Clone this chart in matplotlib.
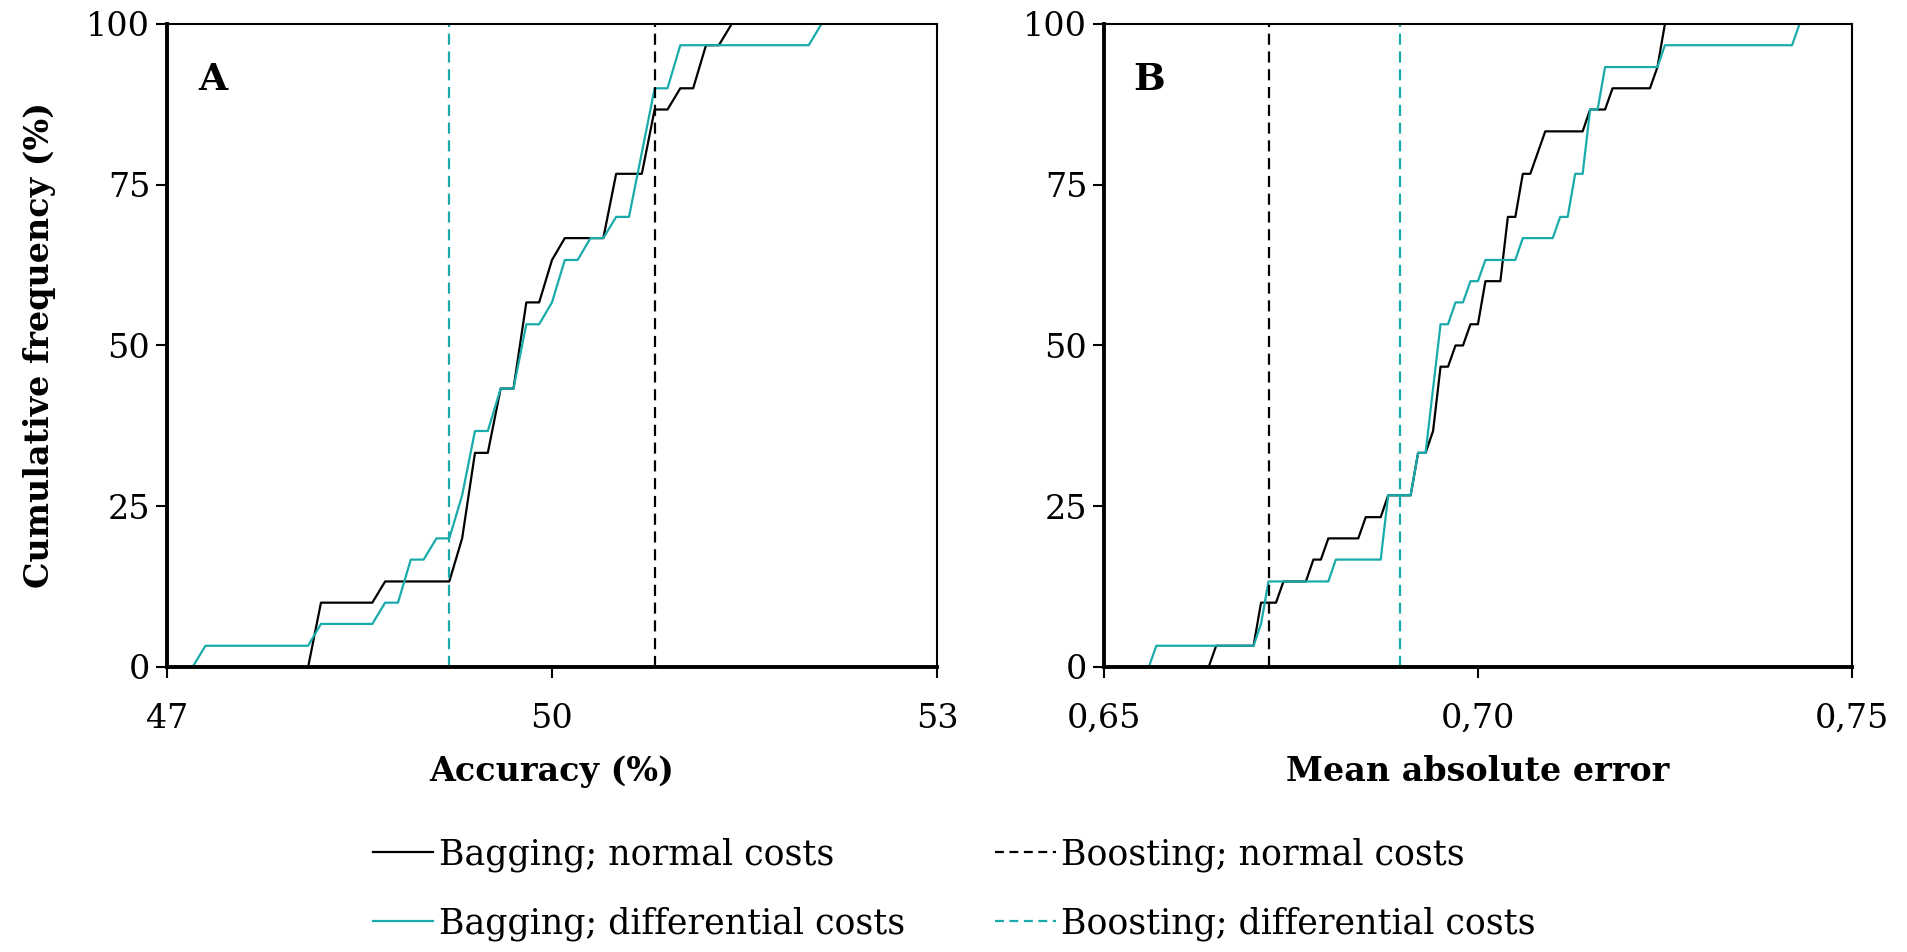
import matplotlib.pyplot as plt
from matplotlib.lines import Line2D

plt.rcParams['font.family'] = ['DejaVu Serif']

teal = '#19abab'

# Panel A: accuracy (%)
acc_bag_norm_x = [48.1, 48.2, 48.6, 48.7, 49.2, 49.3, 49.4, 49.5, 49.6, 49.7, 49.8, 49.9, 50.0, 50.1,
                  50.4, 50.5, 50.7, 50.8, 50.9, 51.0, 51.1, 51.2, 51.3, 51.4]
acc_bag_norm_y = [0, 10, 10, 13.3, 13.3, 20, 33.3, 33.3, 43.3, 43.3, 56.7, 56.7, 63.3, 66.7,
                  66.7, 76.7, 76.7, 86.7, 86.7, 90, 90, 96.7, 96.7, 100]
acc_bag_diff_x = [47.2, 47.3, 48.1, 48.2, 48.6, 48.7, 48.8, 48.9, 49.0, 49.1, 49.2, 49.3, 49.4, 49.5,
                  49.6, 49.7, 49.8, 49.9, 50.0, 50.1, 50.2, 50.3, 50.4, 50.5, 50.6, 50.8, 50.9, 51.0,
                  52.0, 52.1]
acc_bag_diff_y = [0, 3.3, 3.3, 6.7, 6.7, 10, 10, 16.7, 16.7, 20, 20, 26.7, 36.7, 36.7,
                  43.3, 43.3, 53.3, 53.3, 56.7, 63.3, 63.3, 66.7, 66.7, 70, 70, 90, 90, 96.7,
                  96.7, 100]
acc_boost_norm = 50.8
acc_boost_diff = 49.2

# Panel B: mean absolute error
mae_bag_norm_x = [0.664, 0.665, 0.670, 0.671, 0.673, 0.674, 0.677, 0.678, 0.679, 0.680, 0.684, 0.685,
                  0.687, 0.688, 0.691, 0.692, 0.693, 0.694, 0.695, 0.696, 0.697, 0.698, 0.699, 0.700,
                  0.701, 0.703, 0.704, 0.705, 0.706, 0.707, 0.709, 0.714, 0.715, 0.717, 0.718, 0.723,
                  0.724, 0.725]
mae_bag_norm_y = [0, 3.3, 3.3, 10, 10, 13.3, 13.3, 16.7, 16.7, 20, 20, 23.3,
                  23.3, 26.7, 26.7, 33.3, 33.3, 36.7, 46.7, 46.7, 50, 50, 53.3, 53.3,
                  60, 60, 70, 70, 76.7, 76.7, 83.3, 83.3, 86.7, 86.7, 90, 90,
                  93.3, 100]
mae_bag_diff_x = [0.656, 0.657, 0.670, 0.671, 0.672, 0.680, 0.681, 0.687, 0.688, 0.691, 0.692, 0.693,
                  0.695, 0.696, 0.697, 0.698, 0.699, 0.700, 0.701, 0.705, 0.706, 0.710, 0.711, 0.712,
                  0.713, 0.714, 0.715, 0.716, 0.717, 0.724, 0.725, 0.742, 0.743]
mae_bag_diff_y = [0, 3.3, 3.3, 6.7, 13.3, 13.3, 16.7, 16.7, 26.7, 26.7, 33.3, 33.3,
                  53.3, 53.3, 56.7, 56.7, 60, 60, 63.3, 63.3, 66.7, 66.7, 70, 70,
                  76.7, 76.7, 86.7, 86.7, 93.3, 93.3, 96.7, 96.7, 100]
mae_boost_norm = 0.672
mae_boost_diff = 0.6896

y_ticks = [0, 25, 50, 75, 100]
acc_ticks = [47, 50, 53]
acc_labels = ['47', '50', '53']
mae_ticks = [0.65, 0.70, 0.75]
mae_labels = ['0,65', '0,70', '0,75']

fig = plt.figure(figsize=(19.08, 9.52), dpi=100)
axA = fig.add_axes([0.0875, 0.2994, 0.4036, 0.6754])
axB = fig.add_axes([0.5786, 0.2994, 0.392, 0.6754])

dash = (5, 3)


def style(ax, ticks, labels, xlabel, letter):
    ax.set_ylim(0, 100)
    ax.set_xlim(ticks[0], ticks[-1])
    ax.set_yticks(y_ticks)
    ax.set_xticks(ticks)
    ax.set_xticklabels(labels)
    ax.tick_params(axis='both', direction='out', length=8, width=1.5, labelsize=24)
    ax.tick_params(axis='x', pad=18)
    ax.tick_params(axis='y', pad=4)
    ax.spines['left'].set_linewidth(2.8)
    ax.spines['bottom'].set_linewidth(2.8)
    ax.spines['top'].set_linewidth(1.5)
    ax.spines['right'].set_linewidth(1.5)
    ax.set_xlabel(xlabel, fontsize=24, fontweight='bold', labelpad=14)
    ax.text(0.06, 0.913, letter, transform=ax.transAxes, fontsize=27, fontweight='bold',
            ha='center', va='center')


axA.plot(acc_bag_norm_x, acc_bag_norm_y, color='black', lw=1.6)
axA.plot(acc_bag_diff_x, acc_bag_diff_y, color=teal, lw=1.6)
axA.axvline(acc_boost_norm, color='black', lw=1.6, dashes=dash)
axA.axvline(acc_boost_diff, color=teal, lw=1.6, dashes=dash)
style(axA, acc_ticks, acc_labels, 'Accuracy (%)', 'A')
axA.set_ylabel('Cumulative frequency (%)', fontsize=24, fontweight='bold', labelpad=22)

axB.plot(mae_bag_norm_x, mae_bag_norm_y, color='black', lw=1.6)
axB.plot(mae_bag_diff_x, mae_bag_diff_y, color=teal, lw=1.6)
axB.axvline(mae_boost_norm, color='black', lw=1.6, dashes=dash)
axB.axvline(mae_boost_diff, color=teal, lw=1.6, dashes=dash)
style(axB, mae_ticks, mae_labels, 'Mean absolute error', 'B')

handles = [
    Line2D([], [], color='black', lw=1.6),
    Line2D([], [], color=teal, lw=1.6),
    Line2D([], [], color='black', lw=1.6, dashes=(4, 2.5)),
    Line2D([], [], color=teal, lw=1.6, dashes=(4, 2.5)),
]
labels = ['Bagging; normal costs', 'Bagging; differential costs',
          'Boosting; normal costs', 'Boosting; differential costs']
fig.legend(handles, labels, ncol=2, loc='center', bbox_to_anchor=(0.5, 0.066), frameon=False,
           fontsize=25, handlelength=1.75, handletextpad=0.15, columnspacing=2.6, labelspacing=1.0)

fig.savefig('out.png', dpi=100)
